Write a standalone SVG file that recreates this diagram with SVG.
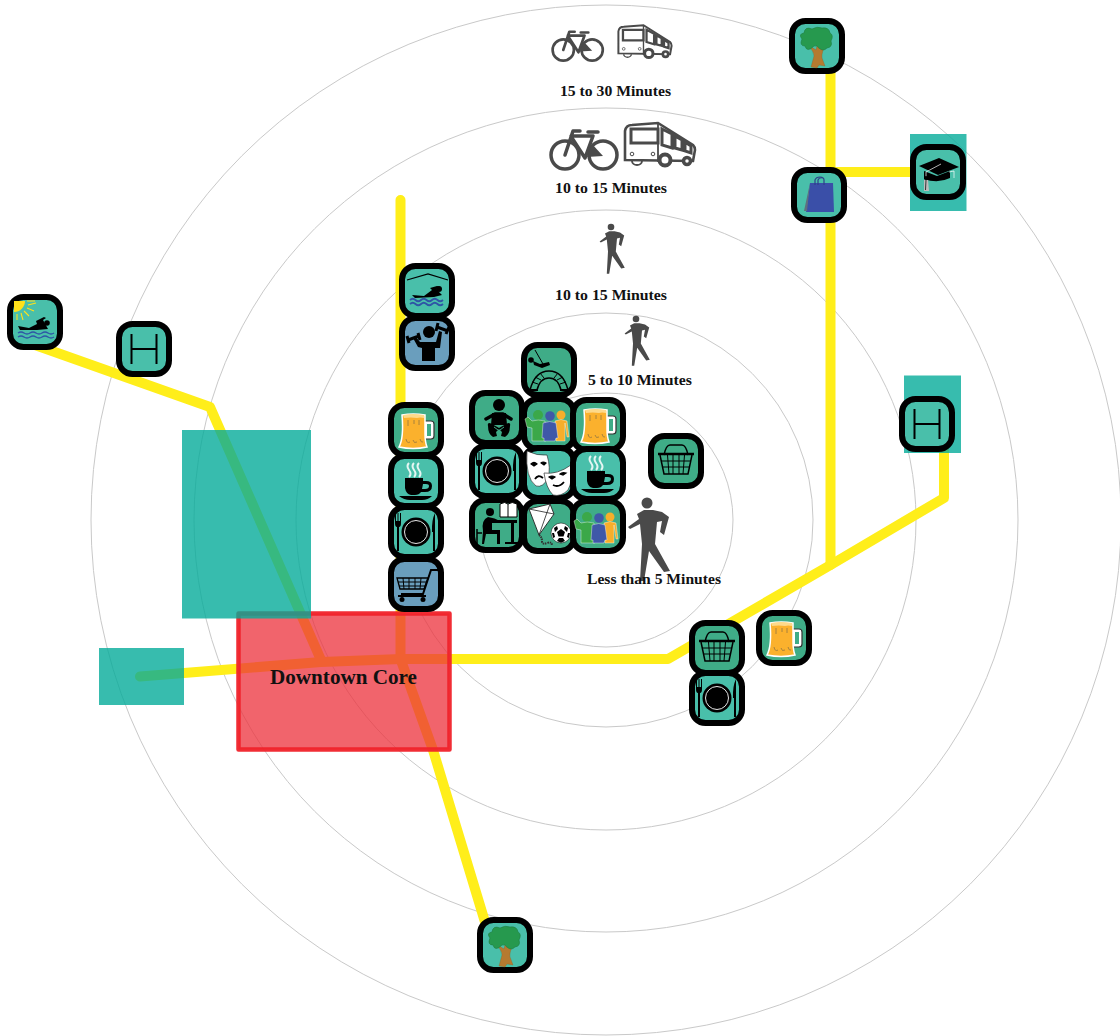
<svg xmlns="http://www.w3.org/2000/svg" width="1120" height="1036" viewBox="0 0 1120 1036">
<style>
.ring{fill:none;stroke:#c9c9c9;stroke-width:1}
.road{fill:none;stroke:#ffee1a;stroke-width:10;stroke-linejoin:round;stroke-linecap:round}
.zone{fill:#05ab9a;fill-opacity:.8}
.core{fill:#ec303b;fill-opacity:.75;stroke:#f0222a;stroke-opacity:.95;stroke-width:4.5;stroke-linejoin:round}
.lab{font-family:"Liberation Serif","Times New Roman",serif;font-weight:bold;fill:#111;text-anchor:start}
.tile{stroke:#000;stroke-width:6}
.g{fill:#3fac87}.t{fill:#49bfaa}.b{fill:#6a9ebd}
.k{fill:#000}.w{fill:#fff}.ln{fill:none;stroke:#000;stroke-width:1.5}
.dk{fill:#4a4a4a}.dl{fill:none;stroke:#4a4a4a;stroke-linejoin:round;stroke-linecap:round}
</style>
<defs>
<rect id="tg" class="tile g" x="-25" y="-25" width="50" height="50" rx="13.500"/>
<rect id="tt" class="tile t" x="-25" y="-25" width="50" height="50" rx="13.500"/>
<rect id="tb" class="tile b" x="-25" y="-25" width="50" height="50" rx="13.500"/>
<g id="beer">
<path d="M8,-9H15Q18,-9 18,-6V6Q18,9 15,9H8" fill="#fff" stroke="#333" stroke-width="1.200"/>
<path d="M11,-6H15V6H11Z" fill="#3fac87"/>
<path d="M-14,-15Q-3,-17 9,-15L9,4Q9,12 11,17Q-3,20 -17,17Q-12,8 -14,-15Z" fill="#fbb12d" stroke="#fff" stroke-width="1.500"/>
<path d="M-13,-15Q-3,-17 8,-15L8,-12Q4,-13 1,-12Q-5,-13 -12,-12Z" fill="#fdd98a"/>
<path d="M-8,-10V-4M-2,-10V-6M3,-10V-5M-10,9q1,5 4,3M-3,10q1,4 4,2M4,9q1,4 3,3" fill="none" stroke="#a8823c" stroke-width="1"/>
</g>
<g id="cup">
<path d="M-7,-18q-3,3 0,7t0,7M-2,-18q-3,3 0,7t0,7M3,-18q-3,3 0,7t0,7" fill="none" stroke="#fff" stroke-opacity=".85" stroke-width="2"/>
<path d="M-11,-3H7V0H10Q16,0 16,5Q16,11 9,11H5Q3,14 -1,14H-5Q-10,13 -11,7Z" class="k"/>
<path d="M7,3H10Q13,3 13,5Q13,8 9,8H6Z" fill="#49bfaa"/>
<path d="M-17,15H16Q12,19 6,19H-6Q-12,19 -17,15Z" class="k"/>
</g>
<g id="plate">
<circle r="14.500" class="k"/><circle r="11.500" fill="none" stroke="#fff" stroke-width=".9"/>
<path d="M-21,-19V-9Q-21,-5 -19,-5V19H-17V-5Q-15,-5 -15,-9V-19H-16V-11H-17.500V-19H-18.500V-11H-20V-19Z" class="k"/>
<path d="M19,19V-19Q15.500,-12 16,0H17V19Z" class="k"/>
</g>
<g id="cart">
<path d="M22,-14H15L7,10H-15" fill="none" stroke="#000" stroke-width="2"/>
<path d="M-19,-6H12L8,5H-16Z" fill="none" stroke="#000" stroke-width="1.300"/>
<path d="M-13,-6L-12,5M-7,-6V5M-1,-6V5M5,-6L4,5M-18,-2H11M-17,2H9" fill="none" stroke="#000" stroke-width="1"/>
<path d="M-18,12H10" stroke="#000" stroke-width="2"/><circle cx="-14" cy="15.500" r="2.500" class="k"/><circle cx="7" cy="15.500" r="2.500" class="k"/>
</g>
<g id="basket">
<path d="M-12,-6Q-10,-16 -6,-16H6Q10,-16 12,-6" fill="none" stroke="#000" stroke-width="1.500"/>
<path d="M-18,-7H18" stroke="#000" stroke-width="2.500"/>
<path d="M-16,-6L-12,13H12L16,-6" fill="none" stroke="#000" stroke-width="1.500"/>
<path d="M-8.500,-6L-7,13M-3,-6V13M3,-6V13M8.500,-6L7,13M-15,0H15M-13.500,6H13.500" fill="none" stroke="#000" stroke-width="1"/>
</g>
<g id="baby">
<circle cx="2" cy="-13" r="6" class="k"/>
<path d="M-11,1L-2,-4H6L14,1" fill="none" stroke="#000" stroke-width="3.500" stroke-linecap="round" stroke-linejoin="round"/>
<path d="M-5,-5H9L10,7H-6Z" class="k"/>
<path d="M-9,8Q-10,3 -5,6L2,10L9,6Q14,3 13,8Q13,16 8,19L4,18L5,14L2,11L-1,14L0,18L-4,19Q-9,16 -9,8Z" class="k"/>
<path d="M-3,9L1,12M7,9L3,12" stroke="#3fac87" stroke-width="1"/>
</g>
<g id="people">
<circle cx="12" cy="-9" r="4.500" fill="#f7ae2b"/><path d="M6,-3Q12,-6 18,-3L20,13H18L16,-1V17H7Z" fill="#f7ae2b" stroke="#fff" stroke-width=".4"/>
<circle cx="-11" cy="-9" r="5" fill="#3ba849"/><path d="M-24,-5L-21,-7L-17,-3Q-11,-5 -4,-3L-3,17H-17L-17,4L-22,3Z" fill="#3ba849" stroke="#fff" stroke-width=".4"/>
<circle cx="1" cy="-8" r="4.800" fill="#3f58a8"/><path d="M-6,-1Q1,-4 7,-1L9,14H7L6,17H-5L-5,14H-7Z" fill="#3f58a8" stroke="#fff" stroke-width=".4"/>
</g>
<g id="masks">
<path d="M-22,-22Q-12,-17 -2,-18Q2,-5 -1,5Q-6,15 -13,13Q-24,5 -22,-22Z" class="w" stroke="#333" stroke-width=".7"/>
<path d="M-18,-9q3,-3 6,0l-3,2ZM-8,-10q2,-2 5,0l-2,2Z" stroke="#000" stroke-width="1.200"/>
<path d="M-14,6q3,-5 8,-1" stroke="#000" stroke-width="1.800" fill="none"/>
<path d="M-5,0Q8,2 22,-8Q24,8 19,17Q12,24 4,22Q-3,15 -5,0Z" class="w" stroke="#333" stroke-width=".7"/>
<path d="M0,4q3,-2 6,0l-3,2ZM11,1q2,-2 6,-1l-3,2Z" stroke="#000" stroke-width="1.200"/>
<path d="M4,12q6,3 11,-3" stroke="#000" stroke-width="1.800" fill="none"/>
</g>
<g id="study">
<path d="M3,-21Q8,-24 11,-21Q15,-24 20,-21V-8H3Z" class="w" stroke="#000"/><path d="M11,-21V-8" stroke="#000"/>
<circle cx="-7" cy="-13" r="4" class="k"/>
<path d="M-9,-8Q-2,-7 3,-4V-2L-5,-2L-5,5L3,5V19H0V9H-11L-13,19H-15L-14,6Q-16,-5 -9,-8Z" class="k"/>
<path d="M-4,-5H20V-2H17V17H21V19H8V17H14V-2H-4Z" class="k"/>
<path d="M-20,4V19M-20,8H-15" stroke="#000" stroke-width="1.500"/>
</g>
<g id="kite">
<path d="M-20,-17L1,-22L5,-12L-10,9Z" class="w" stroke="#222" stroke-width=".9"/>
<path d="M-20,-17L5,-12M1,-22L-10,9" stroke="#222" stroke-width=".8"/>
<path d="M-10,9q3,2 3,6t5,2t5,3" fill="none" stroke="#333" stroke-width="2" stroke-dasharray="1.500 .8"/>
<circle cx="12" cy="7" r="10" class="w" stroke="#222" stroke-width=".6"/>
<path d="M12,3l4,3-1.500,4.500h-5L8,6ZM5,2l3,-2 1,3-3,3ZM19,2l-3,-2-1,3 3,3ZM8,15l2,-3h4l2,3-4,1.800ZM3,7h2l1,4-2,1ZM21,7h-2l-1,4 2,1Z" class="k"/>
</g>
<g id="swing">
<path d="M-14,-20L-6,-6" stroke="#000" stroke-width="1"/>
<circle cx="-18" cy="-10" r="2.800" class="k"/>
<path d="M-16,-9L-9,-6L0,-8L1,-5L-7,-2L-15,-5Z" class="k"/>
<path d="M-19,20Q-14,1 0,1Q14,1 19,20" fill="none" stroke="#000" stroke-width="1.500"/>
<path d="M-12,20Q-9,8 0,8Q9,8 12,20" fill="none" stroke="#000" stroke-width="1.500"/>
<path d="M-17,12L-11,14M-14,7L-8,10M-9,3L-5,8M9,3L5,8M14,7L8,10M17,12L11,14" stroke="#000" stroke-width="1"/>
<path d="M-20,20H-11M11,20H20" stroke="#000" stroke-width="2"/>
</g>
<g id="pool">
<path d="M-20,-11L1,-17L21,-11" fill="none" stroke="#000" stroke-width="1.300"/>
<circle cx="12" cy="-2" r="3" class="k"/>
<path d="M-15,4L-3,5L5,-1L3,-3L10,-5L13,-4L9,-2L15,4L7,6L-12,7Z" class="k"/>
<path d="M-17,9q2.800,-2.500 5.500,0t5.500,0t5.500,0t5.500,0t5.500,0t5.500,0M-17,13q2.800,-2.500 5.500,0t5.500,0t5.500,0t5.500,0t5.500,0t5.500,0" fill="none" stroke="#2f55a6" stroke-width="1.800"/>
</g>
<g id="gym">
<circle cx="2" cy="-11" r="6" class="k"/>
<path d="M-14,-5L-11,-6L-7,-1H9L12,-12L15,-11L13,5L8,5L8,18H-5L-5,5L-9,4Z" class="k"/>
<g stroke="#000" stroke-width="3"><path d="M-19,-3L-8,-7M-20,-7L-18,0M-9,-10L-7,-3"/><path d="M10,-16L21,-12M11,-20L9,-12M22,-16L19,-9"/></g>
</g>
<g id="swimsun">
<path d="M-21,-21H-10A11,11 0 0 1 -21,-10Z" fill="#ffe11a"/>
<path d="M-8,-21h8M-7,-17l8,-2M-8,-14l7,3M-11,-11l5,5M-14,-9l2,7M-18,-8v6" stroke="#ffe11a" stroke-width="1.100"/>
<circle cx="12" cy="1" r="2.800" class="k"/>
<path d="M-17,4L-6,6L2,2L1,-1L9,-5L11,-4L8,-2L13,7L2,8H-15Z" class="k"/>
<path d="M-17,11q3,-2 6,0t6,0t6,0t6,0t6,0t6,0M-17,15q3,-2 6,0t6,0t6,0t6,0t6,0t6,0" fill="none" stroke="#2f55a6" stroke-width="1.500"/>
</g>
<g id="h"><path d="M-12.500,-15V15M12.500,-15V15M-12.500,0H12.500" fill="none" stroke="#000" stroke-width="2"/></g>
<g id="tree">
<path d="M-6,21L-3,10Q-3,5 -9,0L-7,0L-1,4L0,0L2,0L2,3L8,-4L10,-3Q4,6 5,12L8,20L2,19L0,22Z" fill="#b57a30" stroke="#8a5a20" stroke-width=".3"/>
<path d="M-3,0Q-10,7 -12,0Q-18,0 -15,-7Q-19,-12 -13,-13Q-12,-20 -5,-17Q0,-20 5,-18Q12,-19 13,-13Q17,-11 14,-5Q16,1 10,2Q6,6 2,2Q0,-1 -3,0Z" fill="#26994e" stroke="#1f7d40" stroke-width=".6"/>
</g>
<g id="bag">
<path d="M-9,-12L14,-12L15,17H-13Z" fill="#3a4fa8"/><path d="M-15,16L-9,-12L-12,16Z" fill="#5f6f7f"/>
<path d="M-4,-10V-15Q-3,-18 1,-18Q5,-18 5,-15V-10M-1,-10V-15Q0,-18 4,-17" fill="none" stroke="#2f3f8a" stroke-width="1.200"/>
</g>
<g id="cap">
<path d="M-14,-1V7Q0,12 12,6V-1L-1,4Z" class="k"/>
<path d="M-19,-6L1,-14L21,-5L0,3Z" class="k"/>
<path d="M3,-8L-12,0V7M11,0L16,-1V6" fill="none" stroke="#fff" stroke-width=".7"/>
<path d="M-14,8H-10L-9,19H-14Z" fill="#bdbdbd"/><circle cx="-12" cy="6" r="2" class="k"/>
<path d="M-12,8l-.5,10" stroke="#333" stroke-width="1"/>
</g>
<g id="walker"><circle cy="0" r="5.500" class="dk"/><path d="M-3,7L6,7L15,9L22,14L17,32L13,29L15,18L10,19L8,41L23,68L17,69L2,48L-3,78L-7,78L-5,41L-7,21L-17,26L-19,24L-8,16L-10,11Z" class="dk"/></g>
<g id="bike">
<g class="dl" stroke-width="3.500"><circle cx="-19" cy="0" r="14"/><circle cx="19" cy="0" r="14"/>
<path d="M-19,0L-11,-24H-4M-13,-19H9M-12,-17L1,3L9,-19M4,-23H14" /></g>
<path d="M3,2L8,-11L19,1Z" class="dk"/>
</g>
<g id="bus">
<path d="M-35,-14Q-34,-20 -28,-20L-2,-22L33,0Q35,2 35,5L33,16L-35,15Z" fill="#fff" stroke="#4a4a4a" stroke-width="2.600"/>
<path d="M-29,-16H-2V-2H-29Z" fill="#fff" stroke="#4a4a4a" stroke-width="3"/>
<path d="M-2,-22V17" stroke="#4a4a4a" stroke-width="1.800"/>
<path d="M2,-16L12,-11V3L2,0ZM15,-9L22,-5V5L15,3ZM25,-3L31,1V8L25,6Z" fill="#fff" stroke="#4a4a4a" stroke-width="3"/>
<path d="M-28,16A5,4 0 0 0 -18,16" fill="none" stroke="#4a4a4a" stroke-width="1.800"/>
<circle cx="5" cy="15" r="5.500" fill="#fff" stroke="#4a4a4a" stroke-width="4"/><circle cx="27" cy="16" r="3.500" fill="#fff" stroke="#4a4a4a" stroke-width="3.500"/>
<circle cx="-28" cy="9" r="1.800" fill="none" stroke="#4a4a4a"/><circle cx="-7" cy="9" r="1.800" fill="none" stroke="#4a4a4a"/>
</g>
</defs>

<g id="rings">
<circle class="ring" cx="606" cy="520" r="127"/>
<circle class="ring" cx="606" cy="520" r="207"/>
<circle class="ring" cx="606" cy="520" r="310"/>
<circle class="ring" cx="606" cy="520" r="412"/>
<circle class="ring" cx="606" cy="520" r="515"/>
</g>

<g id="connectors">
<path class="road" d="M35,345L210,407L321,660"/>
<path class="road" d="M140,676.500L321,662L401,659L668,659L830.500,565L944,498V450"/>
<path class="road" d="M400.500,200V659L433,750L485,922"/>
<path class="road" d="M830.500,60V565M830.500,172H915"/>
</g>

<g id="downtown-core"><rect class="core" x="238.500" y="613.500" width="211" height="136"/></g>
<g id="zone-a"><rect class="zone" x="182" y="430" width="129" height="188.500"/></g>
<g id="zone-b"><rect class="zone" x="99" y="648" width="85" height="57"/></g>
<g id="zone-c"><rect class="zone" x="910" y="134" width="56.500" height="77"/></g>
<g id="zone-d"><rect class="zone" x="904" y="375.500" width="57" height="77.500"/></g>

<g id="n-tree-top" transform="translate(817,46)"><use href="#tt"/><use href="#tree"/></g>
<g id="n-bag" transform="translate(819,195)"><use href="#tt"/><use href="#bag"/></g>
<g id="n-cap" transform="translate(938,172)"><use href="#tt"/><use href="#cap"/></g>
<g id="n-h-right" transform="translate(927,424)"><use href="#tt"/><use href="#h"/></g>
<g id="n-basket-right" transform="translate(676,461)"><use href="#tg"/><use href="#basket"/></g>
<g id="n-beer-low" transform="translate(784,638)"><use href="#tg"/><use href="#beer"/></g>
<g id="n-basket-low" transform="translate(717,648)"><use href="#tg"/><use href="#basket"/></g>
<g id="n-plate-low" transform="translate(717,698)"><use href="#tt"/><use href="#plate"/></g>
<g id="n-tree-bottom" transform="translate(505,945)"><use href="#tt"/><use href="#tree"/></g>
<g id="n-swim-sun" transform="translate(35,322)"><use href="#tt"/><use href="#swimsun"/></g>
<g id="n-h-left" transform="translate(144,349)"><use href="#tt"/><use href="#h"/></g>
<g id="n-pool" transform="translate(427,291)"><use href="#tt"/><use href="#pool"/></g>
<g id="n-gym" transform="translate(427,343)"><use href="#tb"/><use href="#gym"/></g>
<g id="n-beer-col" transform="translate(416,430)"><use href="#tg"/><use href="#beer"/></g>
<g id="n-cup-col" transform="translate(416,481)"><use href="#tt"/><use href="#cup"/></g>
<g id="n-plate-col" transform="translate(416,532)"><use href="#tt"/><use href="#plate"/></g>
<g id="n-cart" transform="translate(416,584)"><use href="#tb"/><use href="#cart"/></g>
<g id="n-swing" transform="translate(549,370)"><use href="#tg"/><use href="#swing"/></g>
<g id="n-baby" transform="translate(497,418)"><use href="#tg"/><use href="#baby"/></g>
<g id="n-people-1" transform="translate(549,424)"><use href="#tg"/><use href="#people"/></g>
<g id="n-beer-grid" transform="translate(598,425)"><use href="#tg"/><use href="#beer"/></g>
<g id="n-plate-grid" transform="translate(497,471)"><use href="#tt"/><use href="#plate"/></g>
<g id="n-masks" transform="translate(549,473)"><use href="#tt"/><use href="#masks"/></g>
<g id="n-cup-grid" transform="translate(598,474)"><use href="#tt"/><use href="#cup"/></g>
<g id="n-study" transform="translate(497,525)"><use href="#tg"/><use href="#study"/></g>
<g id="n-kite" transform="translate(549,526)"><use href="#tg"/><use href="#kite"/></g>
<g id="n-people-2" transform="translate(598,526)"><use href="#tg"/><use href="#people"/></g>

<g id="legend">
<use href="#bike" transform="translate(577.700,50) scale(.76)"/>
<use href="#bus" transform="translate(645,42) scale(.76)"/>
<use href="#bike" transform="translate(584,155)"/>
<use href="#bus" transform="translate(660,145)"/>
<use href="#walker" transform="translate(611,227) scale(.6)"/>
<use href="#walker" transform="translate(636,319) scale(.6)"/>
<use href="#walker" transform="translate(647,503)"/>
</g>

<text class="lab" x="560" y="96" font-size="15.500" textLength="111" lengthAdjust="spacingAndGlyphs">15 to 30 Minutes</text>
<text class="lab" x="555" y="193" font-size="15.500" textLength="112" lengthAdjust="spacingAndGlyphs">10 to 15 Minutes</text>
<text class="lab" x="555" y="300" font-size="15.500" textLength="112" lengthAdjust="spacingAndGlyphs">10 to 15 Minutes</text>
<text class="lab" x="588" y="385" font-size="15" textLength="104" lengthAdjust="spacingAndGlyphs">5 to 10 Minutes</text>
<text class="lab" x="587" y="584" font-size="15.500" textLength="134" lengthAdjust="spacingAndGlyphs">Less than 5 Minutes</text>
<text class="lab" x="270" y="684" font-size="21" textLength="147" lengthAdjust="spacingAndGlyphs">Downtown Core</text>
</svg>
